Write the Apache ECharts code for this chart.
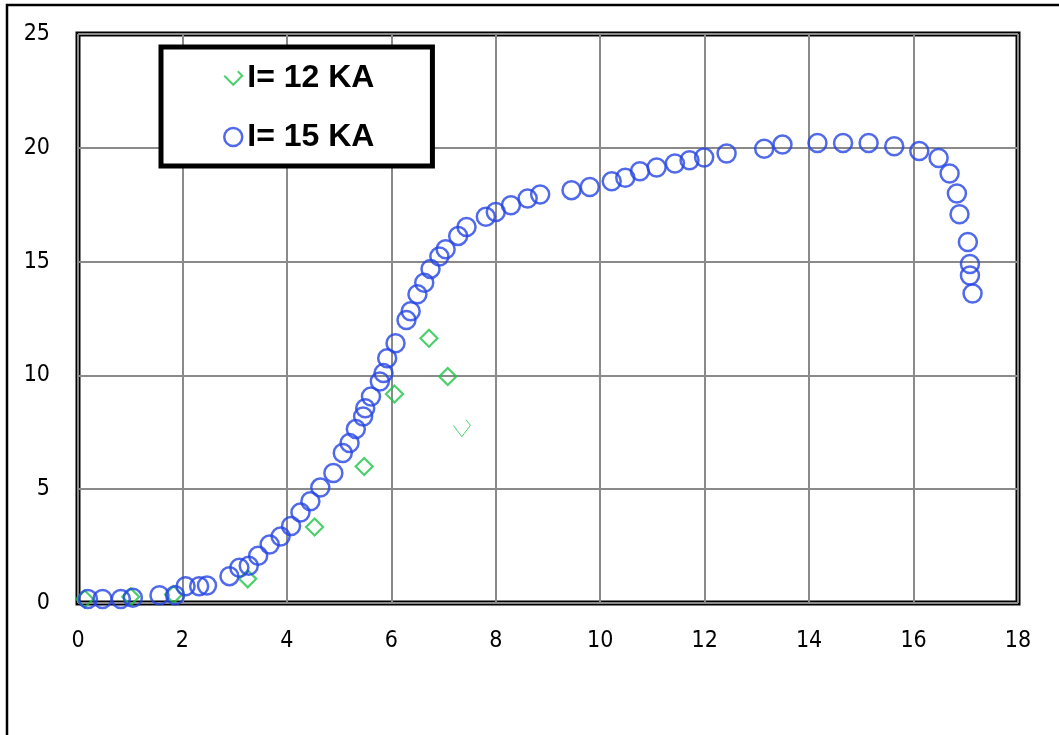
<!DOCTYPE html>
<html><head><meta charset="utf-8">
<script src="https://cdn.jsdelivr.net/npm/echarts@6/dist/echarts.min.js"></script>
<style>html,body{margin:0;padding:0;background:#fff}#c{width:1059px;height:735px}</style>
</head><body><div id="c"></div>
<script>
const seriesNames = ['I= 12 KA', 'I= 15 KA'];
const xTicks = {min: 0, max: 18, interval: 2};
const yTicks = {min: 0, max: 25, interval: 5};
const ka12 = [[0.13,0.18],[1.01,0.27],[1.83,0.37],[3.25,1.06],[4.53,3.34],[5.48,6.0],[6.06,9.18],[6.72,11.63],[7.08,9.95],[7.35,7.68]];
const ka15 = [[0.19,0.18],[0.47,0.18],[0.82,0.18],[1.05,0.23],[1.56,0.34],[1.86,0.34],[2.06,0.74],[2.32,0.74],[2.47,0.77],[2.9,1.18],[3.09,1.55],[3.27,1.64],[3.45,2.08],[3.67,2.57],[3.88,2.92],[4.08,3.38],[4.26,3.98],[4.45,4.47],[4.64,5.07],[4.89,5.71],[5.07,6.59],[5.2,7.03],[5.32,7.64],[5.46,8.19],[5.5,8.56],[5.61,9.07],[5.78,9.73],[5.85,10.1],[5.92,10.75],[6.08,11.41],[6.29,12.43],[6.37,12.82],[6.5,13.57],[6.63,14.07],[6.75,14.68],[6.92,15.22],[7.04,15.54],[7.28,16.13],[7.44,16.52],[7.81,16.97],[8.0,17.18],[8.29,17.48],[8.61,17.77],[8.85,17.95],[9.45,18.14],[9.8,18.28],[10.22,18.53],[10.48,18.68],[10.76,18.97],[11.08,19.13],[11.43,19.31],[11.71,19.45],[11.99,19.57],[12.42,19.75],[13.14,19.96],[13.49,20.14],[14.16,20.21],[14.65,20.21],[15.14,20.21],[15.63,20.07],[16.11,19.86],[16.48,19.55],[16.69,18.87],[16.83,17.99],[16.88,17.08],[17.04,15.86],[17.08,14.89],[17.08,14.39],[17.13,13.6]];

const GREEN = '#1fc447', BLUE = '#2545e4';
const vPath = 'path://M0,8 L8,16 L16,8 L12,4';
const greenData = ka12.map((p, i) => i === ka12.length - 1
  ? {value: p, symbol: vPath, symbolSize: [17, 17], itemStyle: {borderWidth: 1}}
  : {value: p});

const chart = echarts.init(document.getElementById('c'));
const labelFont = {fontFamily: "'Liberation Sans Narrow','DejaVu Sans Condensed',sans-serif", fontSize: 23, color: '#000'};
chart.setOption({
  animation: false,
  backgroundColor: '#fff',
  grid: {left: 78, right: 41, top: 34, bottom: 132, show: true, borderColor: '#000', borderWidth: 5, containLabel: false},
  xAxis: {type: 'value', min: xTicks.min, max: xTicks.max, interval: xTicks.interval,
    axisLine: {show: false}, axisTick: {show: false},
    axisLabel: Object.assign({margin: 27}, labelFont),
    splitLine: {show: true, lineStyle: {color: '#8a8a8a', width: 2}}},
  yAxis: {type: 'value', min: yTicks.min, max: yTicks.max, interval: yTicks.interval,
    axisLine: {show: false}, axisTick: {show: false},
    axisLabel: Object.assign({margin: 28}, labelFont),
    splitLine: {show: true, lineStyle: {color: '#8a8a8a', width: 2}}},
  legend: {
    orient: 'vertical', left: 161, top: 47,
    padding: [15, 58, 13, 62], itemGap: 27, itemWidth: 18, itemHeight: 18,
    borderColor: '#000', borderWidth: 5, backgroundColor: '#fff',
    textStyle: {fontFamily: "'Liberation Sans',Arial,sans-serif", fontWeight: 'bold', fontSize: 32, color: '#000', lineHeight: 32},
    data: [
      {name: seriesNames[0], icon: vPath, itemStyle: {color: 'transparent', borderColor: GREEN, borderWidth: 2}},
      {name: seriesNames[1], icon: 'circle', itemStyle: {color: 'transparent', borderColor: BLUE, borderWidth: 2.5}}
    ]
  },
  graphic: [{type: 'rect', shape: {x: 7, y: 5, width: 1200, height: 900}, style: {fill: 'none', stroke: '#000', lineWidth: 2.5}, silent: true, z: 100}],
  series: [
    {name: seriesNames[0], type: 'scatter', symbol: 'diamond', symbolSize: 17, data: greenData,
      itemStyle: {color: 'transparent', borderColor: GREEN, borderWidth: 2.2}, z: 2},
    {name: seriesNames[1], type: 'scatter', symbol: 'circle', symbolSize: 18, data: ka15,
      itemStyle: {color: 'transparent', borderColor: BLUE, borderWidth: 2.5}, z: 3}
  ]
});
</script></body></html>
